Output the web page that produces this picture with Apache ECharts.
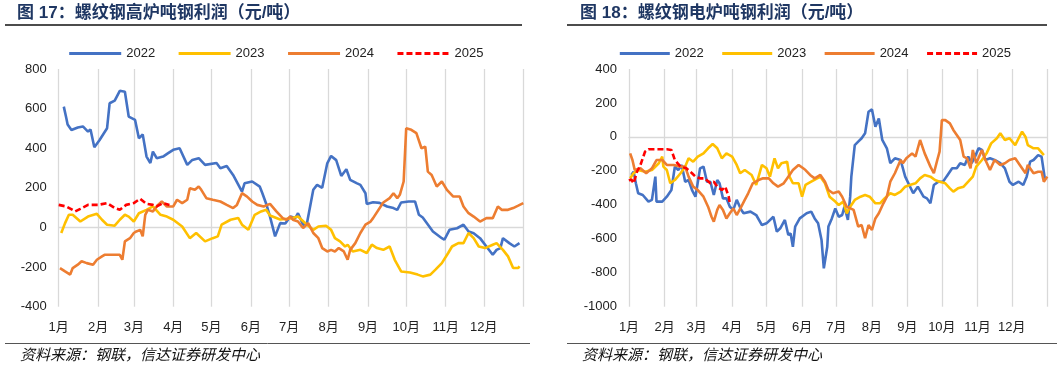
<!DOCTYPE html>
<html><head><meta charset="utf-8">
<script src="https://cdn.jsdelivr.net/npm/echarts@6/dist/echarts.min.js"></script>
<style>html,body{margin:0;padding:0;background:#fff}#c{width:1061px;height:368px}</style>
</head><body><div id="c"></div>
<script>
// ---------- axis labels ----------
const monthLabels = ['1月','2月','3月','4月','5月','6月','7月','8月','9月','10月','11月','12月'];
const monthStarts = [0,31,59,90,120,151,181,212,243,273,304,334];
const yearEndDay = 365;
const seriesNames = ['2022','2023','2024','2025'];
const seriesColors = ['#4472C4','#FFC000','#ED7D31','#FF0000'];

// ---------- 图17 高炉 [day of year, 元/吨] ----------
const bf2022 = [[4,610],[6,551],[7,520],[10,492],[15,505],[19,510],[23,484],[25,495],[28,405],[32,440],[38,501],[40,627],[44,640],[48,690],[52,685],[55,560],[60,543],[63,450],[66,470],[69,358],[72,325],[74,383],[77,350],[82,358],[86,375],[90,392],[95,400],[101,316],[105,341],[110,350],[115,316],[124,325],[127,299],[132,310],[137,265],[144,181],[146,223],[152,232],[158,206],[160,173],[163,120],[166,55],[170,-45],[174,22],[178,20],[182,55],[186,48],[188,72],[192,14],[195,20],[200,190],[203,215],[207,200],[211,324],[214,361],[218,340],[222,260],[226,294],[229,240],[234,224],[237,215],[241,173],[242,119],[247,127],[252,124],[258,106],[263,98],[266,89],[269,126],[275,131],[280,131],[283,64],[286,50],[294,-20],[301,-54],[303,-62],[307,-12],[313,-4],[318,14],[322,-20],[326,-29],[331,-54],[336,-96],[341,-138],[344,-113],[347,-104],[349,-54],[354,-79],[358,-96],[362,-79]];
const bf2023 = [[2,-28],[5,22],[8,64],[11,64],[17,30],[23,55],[30,69],[34,39],[38,14],[44,9],[48,39],[52,64],[55,55],[59,30],[63,72],[69,89],[74,106],[80,64],[85,55],[90,39],[97,5],[103,-54],[108,-28],[115,-70],[121,-54],[125,-45],[128,14],[135,39],[141,48],[144,14],[149,-12],[154,64],[159,81],[163,89],[166,60],[174,40],[182,45],[188,55],[195,14],[200,-12],[204,5],[210,9],[214,-12],[217,-54],[221,-70],[225,-96],[227,-87],[231,-121],[237,-113],[242,-129],[246,-87],[250,-104],[255,-113],[260,-96],[264,-163],[269,-222],[276,-227],[282,-238],[286,-247],[292,-238],[296,-213],[301,-180],[306,-129],[309,-96],[314,-79],[318,-79],[322,-28],[326,-54],[330,-96],[335,-104],[341,-87],[344,-79],[349,-113],[353,-146],[357,-205],[361,-205],[362,-196]];
const bf2024 = [[1,-205],[5,-222],[9,-238],[11,-205],[15,-188],[18,-171],[22,-180],[27,-188],[30,-163],[34,-146],[36,-138],[48,-138],[50,-163],[52,-70],[56,-54],[59,-28],[61,-20],[64,-12],[66,-45],[68,64],[70,89],[74,81],[78,114],[81,131],[85,106],[90,106],[93,140],[97,123],[101,140],[103,198],[107,190],[110,207],[112,190],[116,148],[121,140],[127,131],[132,114],[137,98],[140,114],[144,173],[148,156],[152,131],[156,114],[161,106],[166,119],[171,81],[176,47],[179,39],[182,55],[184,39],[188,30],[192,-3],[196,22],[200,-28],[204,-54],[207,-104],[211,-121],[214,-113],[217,-121],[220,-104],[224,-121],[227,-163],[229,-113],[233,-79],[237,-28],[241,14],[245,30],[247,47],[255,126],[260,148],[263,173],[266,148],[268,165],[271,232],[273,501],[277,493],[281,476],[285,400],[288,408],[290,282],[293,265],[297,207],[301,232],[305,190],[310,156],[315,156],[318,106],[322,72],[326,55],[331,30],[336,47],[341,47],[345,106],[348,89],[353,89],[357,98],[361,110],[365,123]];
const bf2025 = [[0,114],[6,106],[13,81],[17,94],[23,114],[31,114],[38,123],[44,98],[48,89],[53,114],[59,123],[64,145],[69,119],[74,114],[77,106],[82,123],[87,114]];

// ---------- 图18 电炉 [day of year, 元/吨] ----------
const ef2022 = [[2,-224],[4,-205],[6,-273],[8,-332],[12,-342],[17,-381],[20,-371],[23,-234],[24,-381],[29,-381],[33,-352],[37,-313],[40,-175],[43,-195],[46,-165],[49,-264],[52,-254],[55,-313],[58,-352],[62,-185],[65,-175],[68,-264],[71,-264],[74,-342],[77,-254],[79,-273],[82,-362],[85,-362],[88,-411],[91,-430],[94,-371],[98,-430],[100,-450],[106,-440],[111,-460],[116,-519],[120,-509],[126,-470],[129,-558],[132,-538],[136,-489],[139,-578],[141,-568],[143,-647],[145,-528],[149,-480],[155,-450],[159,-440],[162,-480],[165,-509],[168,-607],[170,-774],[173,-647],[174,-528],[177,-480],[180,-421],[183,-470],[186,-460],[188,-411],[191,-489],[193,-352],[194,-234],[197,-48],[200,-28],[203,-8],[206,21],[209,148],[212,162],[215,60],[218,109],[221,-18],[225,-67],[228,-155],[232,-126],[237,-136],[241,-234],[248,-332],[252,-293],[257,-352],[260,-362],[263,-391],[266,-283],[270,-264],[274,-264],[277,-234],[282,-185],[286,-185],[289,-155],[293,-165],[296,-116],[299,-155],[302,-116],[305,-67],[308,-77],[311,-136],[315,-126],[319,-136],[324,-155],[328,-185],[332,-264],[335,-283],[340,-264],[344,-283],[347,-234],[350,-146],[353,-136],[357,-107],[360,-116],[363,-254]];
const ef2023 = [[1,-244],[4,-214],[8,-195],[14,-205],[20,-195],[26,-155],[29,-116],[30,-175],[33,-195],[36,-273],[40,-254],[45,-214],[49,-175],[52,-126],[56,-146],[60,-116],[65,-97],[69,-67],[73,-42],[77,-67],[81,-126],[85,-97],[90,-116],[94,-165],[97,-214],[101,-195],[107,-224],[111,-283],[116,-165],[120,-185],[123,-234],[127,-126],[130,-185],[133,-155],[138,-146],[140,-234],[143,-273],[148,-273],[151,-352],[154,-283],[159,-264],[167,-234],[171,-273],[175,-352],[180,-381],[183,-401],[187,-381],[190,-450],[193,-411],[197,-371],[202,-352],[206,-342],[210,-352],[215,-391],[219,-391],[223,-362],[228,-332],[232,-342],[237,-322],[241,-293],[245,-283],[250,-273],[254,-244],[258,-224],[263,-234],[267,-254],[271,-264],[276,-273],[280,-303],[283,-322],[287,-303],[292,-293],[296,-264],[300,-234],[303,-175],[308,-136],[312,-97],[316,-38],[321,-8],[324,21],[328,-18],[332,-8],[337,-48],[340,-8],[343,31],[346,0],[348,-48],[353,-67],[357,-67],[362,-107]];
const ef2024 = [[1,-97],[3,-136],[5,-195],[10,-185],[15,-214],[20,-185],[24,-136],[29,-136],[33,-165],[39,-165],[45,-175],[49,-175],[52,-234],[56,-293],[60,-313],[65,-352],[69,-411],[72,-470],[74,-499],[77,-430],[79,-401],[82,-430],[85,-480],[88,-450],[91,-421],[94,-460],[98,-411],[101,-371],[104,-332],[108,-273],[113,-254],[117,-244],[122,-244],[126,-273],[130,-293],[135,-273],[139,-234],[143,-195],[148,-165],[152,-185],[154,-195],[158,-224],[162,-244],[167,-224],[171,-264],[174,-313],[178,-332],[183,-322],[186,-352],[190,-411],[196,-430],[200,-528],[203,-519],[206,-597],[209,-519],[212,-548],[215,-480],[218,-450],[222,-391],[225,-352],[228,-264],[232,-214],[237,-136],[239,-155],[242,-126],[247,-97],[250,-116],[254,-18],[258,-97],[263,-175],[266,-214],[269,-136],[271,-87],[273,99],[276,99],[280,80],[283,41],[289,-18],[292,-116],[295,-126],[298,-185],[300,-77],[303,-155],[308,-77],[311,-136],[315,-195],[319,-136],[324,-165],[328,-155],[332,-136],[337,-126],[341,-165],[346,-214],[348,-165],[353,-214],[357,-205],[360,-205],[362,-264],[365,-234]];
const ef2025 = [[0,-258],[2,-250],[4,-273],[7,-205],[10,-165],[14,-87],[17,-73],[24,-73],[33,-73],[37,-77],[40,-136],[45,-175],[50,-185],[55,-214],[58,-234],[62,-244],[66,-244],[71,-273],[74,-264],[77,-293],[81,-313],[84,-293],[87,-352],[88,-391]];

const titles = ['图 17：螺纹钢高炉吨钢利润（元/吨）','图 18：螺纹钢电炉吨钢利润（元/吨）'];
const sourceText = '资料来源：钢联，信达证券研发中心';

// ---------- build ----------
const dayCats = Array.from({length: yearEndDay + 1}, (_, i) => String(i));
const monthMap = new Map(monthStarts.map((d, i) => [d, monthLabels[i]]));
const NUM_FONT = '"Liberation Sans", Arial, "Noto Sans CJK SC", sans-serif';
const CJK_FONT = '"Liberation Sans", "Noto Sans CJK SC", sans-serif';
const GRID_C = '#d9d9d9';

const grids = [
  {left: 58.7, top: 69, width: 464.6, height: 237.7},
  {left: 629, top: 69, width: 418.3, height: 237.7}
];
const yRanges = [{min: -400, max: 800}, {min: -1000, max: 400}];

const xAxes = [], yAxes = [], series = [];
grids.forEach((g, gi) => {
  xAxes.push({
    type: 'category', gridIndex: gi, data: dayCats, boundaryGap: false, position: 'bottom',
    axisLine: {show: true, onZero: true, lineStyle: {color: GRID_C, width: 1.3}},
    axisTick: {show: false}, axisLabel: {show: false},
    splitLine: {show: true, interval: (i) => monthMap.has(i) || i === yearEndDay,
                lineStyle: {color: GRID_C, width: 1.3}}
  });
  xAxes.push({
    type: 'category', gridIndex: gi, data: dayCats, boundaryGap: false, position: 'bottom',
    axisLine: {show: false, onZero: false}, axisTick: {show: false}, splitLine: {show: false},
    axisLabel: {show: true, interval: (i) => monthMap.has(i), margin: 14,
                formatter: (v) => monthMap.get(Number(v)) || '',
                color: '#222', fontSize: 13, fontFamily: CJK_FONT}
  });
  yAxes.push({
    type: 'value', gridIndex: gi, min: yRanges[gi].min, max: yRanges[gi].max, interval: 200,
    axisLine: {show: false}, axisTick: {show: false}, splitLine: {show: false},
    axisLabel: {color: '#222', fontSize: 13, fontFamily: NUM_FONT, margin: 12, formatter: (v) => String(v)}
  });
});

const chartData = [[bf2022, bf2023, bf2024, bf2025], [ef2022, ef2023, ef2024, ef2025]];
chartData.forEach((set, gi) => {
  set.forEach((d, si) => {
    series.push({
      name: seriesNames[si], type: 'line', xAxisIndex: gi * 2, yAxisIndex: gi,
      data: d, symbol: 'none', smooth: false, animation: false,
      color: seriesColors[si],
      lineStyle: {color: seriesColors[si], width: 2.6, type: si === 3 ? [6, 3] : 'solid'},
      z: 3 + si
    });
  });
});

const legendBase = {
  data: seriesNames, top: 47, itemHeight: 10, padding: 0,
  itemStyle: {opacity: 0, borderWidth: 0},
  lineStyle: {width: 3, inactiveWidth: 3},
  textStyle: {fontSize: 13, color: '#222', fontFamily: NUM_FONT}
};

const titleStyle = {fontSize: 17, fontWeight: 'bold', color: '#1f3763', fontFamily: CJK_FONT};
const srcStyle = {fontSize: 15, fontWeight: 'normal', fontStyle: 'italic', color: '#111', fontFamily: '"Noto Sans CJK SC", sans-serif'};

const option = {
  animation: false,
  backgroundColor: '#fff',
  title: [
    {text: titles[0], left: 17, top: 5, padding: 0, textStyle: titleStyle},
    {text: titles[1], left: 580, top: 5, padding: 0, textStyle: titleStyle},
    {text: sourceText, left: 20, top: 347, padding: 0, textStyle: srcStyle},
    {text: sourceText, left: 582, top: 347, padding: 0, textStyle: srcStyle}
  ],
  legend: [
    Object.assign({}, legendBase, {left: 67.7, itemWidth: 52, itemGap: 22}),
    Object.assign({}, legendBase, {left: 618.3, itemWidth: 50, itemGap: 17})
  ],
  graphic: [
    {type: 'line', shape: {x1: 5, y1: 25, x2: 522, y2: 25}, style: {stroke: '#111', lineWidth: 1.5}},
    {type: 'line', shape: {x1: 567, y1: 25, x2: 1047, y2: 25}, style: {stroke: '#111', lineWidth: 1.5}},
    {type: 'line', shape: {x1: 5, y1: 343.5, x2: 530, y2: 343.5}, style: {stroke: '#555', lineWidth: 1}},
    {type: 'line', shape: {x1: 567, y1: 343.5, x2: 1057, y2: 343.5}, style: {stroke: '#555', lineWidth: 1}}
  ],
  grid: grids,
  xAxis: xAxes,
  yAxis: yAxes,
  series: series
};

const chart = echarts.init(document.getElementById('c'), null, {renderer: 'canvas'});
chart.setOption(option);
</script></body></html>
